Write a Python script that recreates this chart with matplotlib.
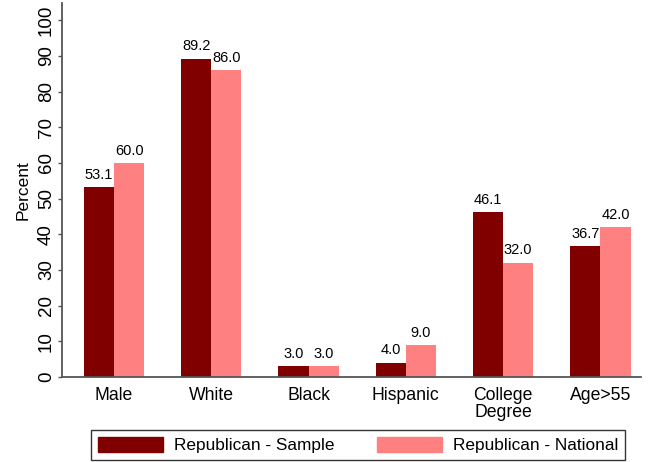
#!/usr/bin/env python3

"""Republican sample vs national demographics bar chart"""

import numpy as np
import matplotlib.pyplot as plt
from matplotlib.patches import Patch

plt.rcParams['font.family'] = ['Liberation Sans', 'DejaVu Sans']

#Data
categories = ["Male", "White", "Black", "Hispanic", "College\nDegree", "Age>55"]
sample = [53.1, 89.2, 3.0, 4.0, 46.1, 36.7]
national = [60.0, 86.0, 3.0, 9.0, 32.0, 42.0]
yticks = list(range(0, 101, 10))

dark = "#800000"
light = "#ff8080"
axcol = "#555555"

fig = plt.figure(figsize=(6.51, 4.62), dpi=100)
ax = fig.add_axes([0.095, 0.184, 0.89, 0.8095])

x = np.arange(len(categories))
w = 0.31
ax.bar(x - w / 2, sample, width=w, color=dark)
ax.bar(x + w / 2, national, width=w, color=light)

for xi, v in zip(x - w / 2, sample):
    ax.text(xi, v + 1.5, f"{v:.1f}", ha="center", va="bottom", fontsize=10.5)
for xi, v in zip(x + w / 2, national):
    ax.text(xi, v + 1.5, f"{v:.1f}", ha="center", va="bottom", fontsize=10.5)

ax.set_xlim(-0.536, 5.42)
ax.set_ylim(0, 104.8)
ax.set_yticks(yticks)
ax.set_yticklabels([str(t) for t in yticks], rotation=90, va="center", fontsize=13.5)
ax.set_xticks(x)
ax.set_xticklabels(categories, fontsize=12.7, linespacing=1.0)
ax.tick_params(axis="x", length=0, pad=7)
ax.tick_params(axis="y", length=3, width=1, color=axcol, pad=2)
ax.set_ylabel("Percent", fontsize=12.5, labelpad=5)

for s in ["top", "right"]:
    ax.spines[s].set_visible(False)
for s in ["left", "bottom"]:
    ax.spines[s].set_color(axcol)
    ax.spines[s].set_linewidth(1.3)

handles = [Patch(color=dark, label="Republican - Sample"),
           Patch(color=light, label="Republican - National")]
leg = fig.legend(handles=handles, loc="center", bbox_to_anchor=(0.550, 0.037),
                 ncol=2, fontsize=12.4, frameon=True, fancybox=False,
                 edgecolor="black", handlelength=3.78, handleheight=1.0,
                 columnspacing=2.45, handletextpad=0.64, borderpad=0.4,
                 borderaxespad=0)
leg.get_frame().set_linewidth(1.0)

fig.savefig("out.png")
plt.close(fig)
